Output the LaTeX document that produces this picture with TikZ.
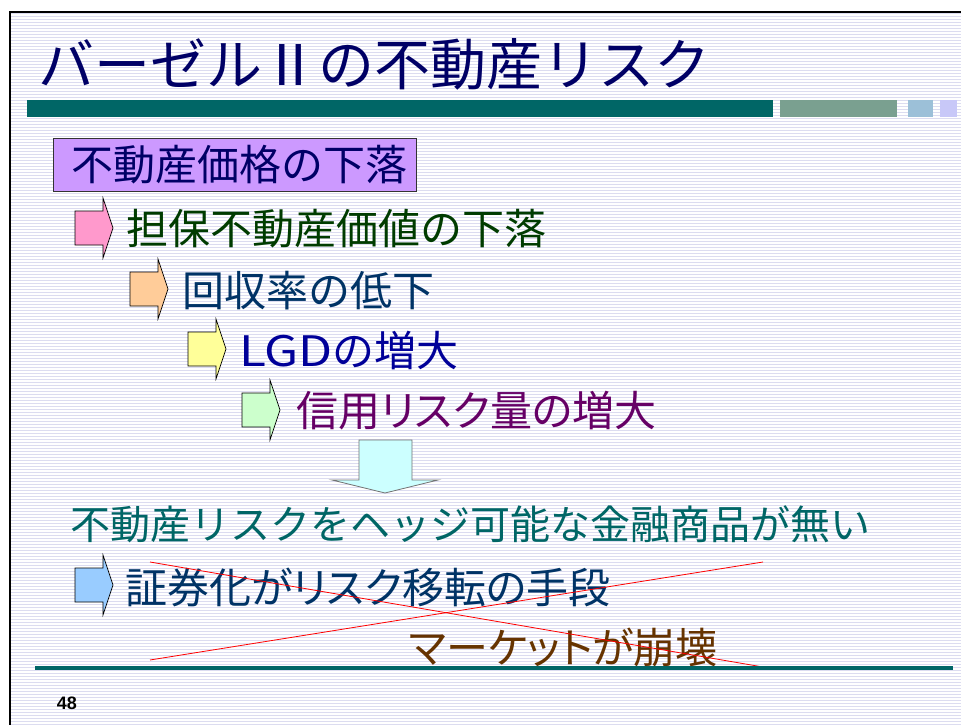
\documentclass[tikz,border=0pt]{standalone}
\usepackage{fontspec}
\newfontfamily\jp{Noto Sans CJK JP}
\newfontfamily\jpp[RawFeature=+palt]{Noto Sans CJK JP}
\newfontfamily\numfont{Liberation Sans}
\definecolor{stripe}{RGB}{220,220,240}
\definecolor{navy}{RGB}{0,0,102}
\definecolor{tealbar}{RGB}{0,102,102}
\definecolor{ggbar}{RGB}{122,160,144}
\definecolor{lbbar}{RGB}{156,192,216}
\definecolor{lavbar}{RGB}{200,200,248}
\definecolor{boxfill}{RGB}{204,153,255}
\definecolor{pinkA}{RGB}{255,153,204}
\definecolor{orangeA}{RGB}{255,204,153}
\definecolor{yellowA}{RGB}{255,255,153}
\definecolor{greenA}{RGB}{204,255,204}
\definecolor{blueA}{RGB}{153,204,255}
\definecolor{cyanA}{RGB}{204,255,255}
\definecolor{dgreen}{RGB}{0,60,0}
\definecolor{dblue}{RGB}{0,51,102}
\definecolor{mblue}{RGB}{0,0,153}
\definecolor{purp}{RGB}{102,0,102}
\definecolor{brown}{RGB}{102,51,0}
\begin{document}
\begin{tikzpicture}[x=1pt,y=-1pt,
  lbl/.style={anchor=west, inner sep=0pt, font=\jp\fontsize{42}{42}\selectfont},
  lblp/.style={anchor=west, inner sep=0pt, font=\jpp\fontsize{42}{42}\selectfont},
  arrowline/.style={draw=black, line width=0.7pt, line join=miter},
  barrow/.pic={\draw[arrowline, fill=#1] (0,-17) -- (28,-17) -- (28,-30) -- (38,0) -- (28,30) -- (28,17) -- (0,17) -- cycle;}
]
\useasboundingbox (0,0) rectangle (961,725);
\fill[white] (0,0) rectangle (961,725);
\foreach \i in {0,...,237} {\draw[stripe, line width=1pt] (11,{13.5+3*\i}) -- (961,{13.5+3*\i});}
\draw[black, line width=2pt] (10,726) -- (10,12) -- (962,12);
% title
\node[anchor=west, inner sep=0pt, text=navy, font=\jp\fontsize{56}{56}\selectfont] (title) at (38,64) {バーゼルⅡの不動産リスク};
\fill[tealbar] (27,100) rectangle (773,117);
\fill[ggbar] (780,100) rectangle (897,117);
\fill[lbbar] (908,100) rectangle (933,117);
\fill[lavbar] (940,100) rectangle (957,117);
% box
\node[anchor=west, draw=black!80, line width=0.7pt, fill=boxfill, inner xsep=0pt, inner ysep=0pt, minimum height=53pt, text width=363pt, align=left, text=navy, font=\jp\fontsize{42}{42}\selectfont] (t0) at (53,165) {\hspace*{18pt}不動産価格の下落};
% chain
\pic at (75,228) {barrow=pinkA};
\node[lbl, text=dgreen] (t1) at (126,229) {担保不動産価値の下落};
\pic at (130,289) {barrow=orangeA};
\node[lbl, text=dblue] (t2) at (182,291) {回収率の低下};
\pic at (188,349) {barrow=yellowA};
\node[lbl, text=mblue] (t3) at (239,350) {\scalebox{1.18}[1]{LGD}の増大};
\pic at (242,410) {barrow=greenA};
\node[lblp, text=purp] (t4) at (296,411) {信用リスク量の増大};
% down arrow
\draw[draw=black!55, line width=0.8pt, fill=cyanA] (359,440) -- (412,440) -- (412,480) -- (438,480) -- (385,493) -- (332,480) -- (359,480) -- cycle;
\node[lbl, text=tealbar, font=\jp\fontsize{40}{40}\selectfont] (t5) at (70,524) {不動産リスクをヘッジ可能な金融商品が無い};
\pic at (75,585) {barrow=blueA};
\node[lblp, text=dblue] (t6) at (125,587) {証券化がリスク移転の手段};
\node[lblp, text=brown] (t7) at (409,648) {マーケットが崩壊};
\draw[red, line width=0.8pt] (150,562) -- (763,667);
\draw[red, line width=0.8pt] (150,660) -- (763,562);
\fill[tealbar] (35,666) rectangle (953,670);
\node[inner sep=0pt, font=\numfont\bfseries\fontsize{18}{18}\selectfont] (pg) at (67,703) {48};
\end{tikzpicture}
\end{document}
